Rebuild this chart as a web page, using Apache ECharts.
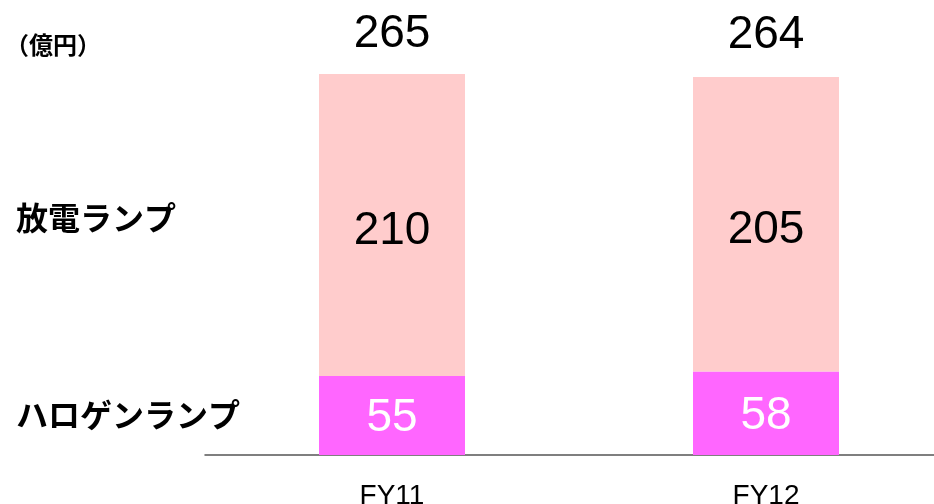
<!DOCTYPE html>
<html>
<head>
<meta charset="utf-8">
<script src="https://cdn.jsdelivr.net/npm/echarts@6/dist/echarts.min.js"></script>
<style>
  html, body { margin: 0; padding: 0; background: #fff; }
  #main { width: 934px; height: 504px; }
</style>
</head>
<body>
<div id="main"></div>
<script>
// データ
const categories = ['FY11', 'FY12'];
const halogen = [55, 58];
const discharge = [210, 205];
const totals = [265, 264];

const chart = echarts.init(document.getElementById('main'));
const numFont = '"Liberation Sans", Arial, sans-serif';
const jpFont = '"Noto Sans CJK JP", sans-serif';

var option = {
  animation: false,
  grid: {
    left: 205,
    width: 748,
    top: 74,
    bottom: 49,
    outerBoundsMode: 'none'
  },
  xAxis: {
    type: 'category',
    data: categories,
    axisTick: { show: false },
    axisLine: { lineStyle: { color: '#555555', width: 1.5 } },
    axisLabel: {
      color: '#000',
      fontSize: 28,
      fontFamily: numFont,
      margin: 27
    }
  },
  yAxis: {
    type: 'value',
    min: 0,
    max: 265,
    show: false
  },
  // 左のラベル
  graphic: [
    {
      type: 'text', left: 5, top: 33,
      style: { text: '（億円）', fontSize: 24, fontWeight: 'bold', fontFamily: jpFont, fill: '#000' }
    },
    {
      type: 'text', left: 16, top: 202,
      style: { text: '放電ランプ', fontSize: 32, fontWeight: 'bold', fontFamily: jpFont, fill: '#000' }
    },
    {
      type: 'text', left: 16, top: 399,
      style: { text: 'ハロゲンランプ', fontSize: 32, fontWeight: 'bold', fontFamily: jpFont, fill: '#000' }
    }
  ],
  series: [
    {
      name: 'ハロゲンランプ',
      type: 'bar',
      stack: 'total',
      barWidth: 146,
      itemStyle: { color: '#FF66FF' },
      label: {
        show: true,
        position: 'inside',
        offset: [0, 3],
        color: '#fff',
        fontSize: 46,
        fontFamily: numFont
      },
      data: halogen
    },
    {
      name: '放電ランプ',
      type: 'bar',
      stack: 'total',
      barWidth: 146,
      itemStyle: { color: '#FFCCCC' },
      label: {
        show: true,
        position: 'inside',
        offset: [0, 6],
        color: '#000',
        fontSize: 46,
        fontFamily: numFont
      },
      data: discharge
    },
    // 合計
    {
      name: '合計',
      type: 'scatter',
      symbolSize: 0,
      itemStyle: { opacity: 1 },
      label: {
        show: true,
        position: 'top',
        distance: 17,
        color: '#000',
        fontSize: 46,
        fontFamily: numFont,
        formatter: function (p) {
          return totals[p.dataIndex];
        }
      },
      data: totals
    }
  ]
};

chart.setOption(option);
</script>
</body>
</html>
